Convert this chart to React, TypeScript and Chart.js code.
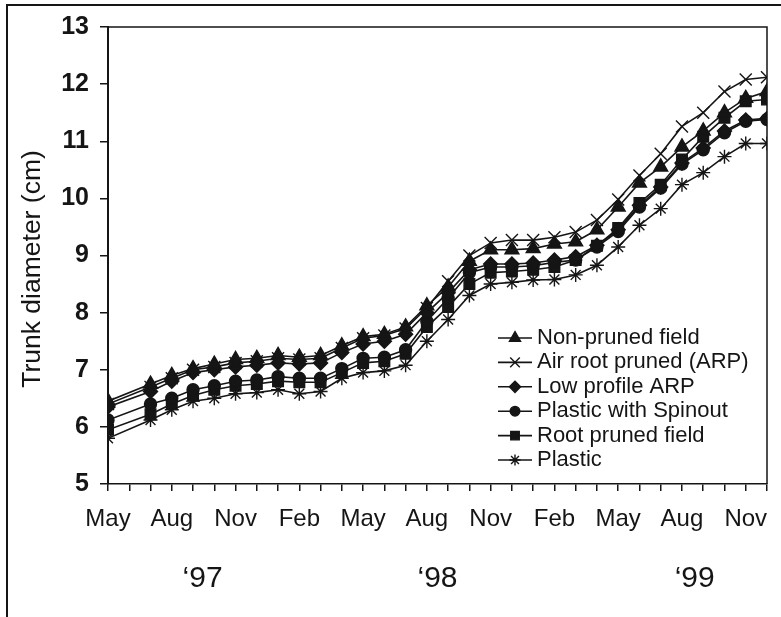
import { useEffect, useRef } from 'react';
import { Chart, registerables } from 'chart.js';
import { drawPoint } from 'chart.js/helpers';

Chart.register(...registerables);

// Month index from May 1997 (0) to Dec 1999 (31); June 1997 not measured
const monthIndex = [0, 2, 3, 4, 5, 6, 7, 8, 9, 10, 11, 12, 13, 14, 15, 16, 17, 18, 19, 20, 21, 22, 23, 24, 25, 26, 27, 28, 29, 30, 31];

const xTickLabels = [
  'May', '', '', 'Aug', '', '', 'Nov', '', '', 'Feb', '', '',
  'May', '', '', 'Aug', '', '', 'Nov', '', '', 'Feb', '', '',
  'May', '', '', 'Aug', '', '', 'Nov', '',
];

const yearLabels = ['\u201897', '\u201898', '\u201899'];
const yearPositions = [4.45, 15.5, 27.6];

const yTicks = [5, 6, 7, 8, 9, 10, 11, 12, 13];
const yTitle = 'Trunk diameter (cm)';

const nonPrunedField = [6.45, 6.75, 6.9, 7.02, 7.1, 7.18, 7.2, 7.25, 7.22, 7.25, 7.42, 7.58, 7.62, 7.75, 8.12, 8.45, 8.9, 9.1, 9.1, 9.12, 9.2, 9.24, 9.45, 9.85, 10.27, 10.55, 10.9, 11.18, 11.5, 11.75, 11.87];
const airRootPruned = [6.4, 6.7, 6.85, 7.0, 7.05, 7.12, 7.15, 7.2, 7.18, 7.2, 7.38, 7.55, 7.6, 7.72, 8.08, 8.55, 9.0, 9.22, 9.27, 9.27, 9.32, 9.41, 9.62, 9.98, 10.4, 10.78, 11.26, 11.5, 11.87, 12.08, 12.12];
const lowProfileARP = [6.35, 6.62, 6.8, 6.95, 7.0, 7.05, 7.08, 7.12, 7.1, 7.12, 7.3, 7.45, 7.5, 7.62, 8.0, 8.35, 8.75, 8.85, 8.85, 8.87, 8.92, 8.98, 9.18, 9.45, 9.88, 10.2, 10.62, 10.88, 11.18, 11.37, 11.4];
const plasticWithSpinout = [6.12, 6.4, 6.5, 6.65, 6.72, 6.8, 6.82, 6.88, 6.85, 6.85, 7.02, 7.2, 7.22, 7.35, 7.85, 8.25, 8.7, 8.8, 8.8, 8.82, 8.88, 8.92, 9.15, 9.42, 9.85, 10.18, 10.6, 10.85, 11.15, 11.35, 11.38];
const rootPrunedField = [5.95, 6.22, 6.4, 6.55, 6.65, 6.72, 6.75, 6.8, 6.78, 6.78, 6.95, 7.12, 7.15, 7.28, 7.75, 8.1, 8.5, 8.7, 8.72, 8.75, 8.8, 8.92, 9.17, 9.48, 9.92, 10.24, 10.68, 11.08, 11.41, 11.7, 11.73];
const plastic = [5.8, 6.12, 6.3, 6.45, 6.5, 6.58, 6.6, 6.65, 6.58, 6.62, 6.85, 6.95, 6.98, 7.08, 7.5, 7.88, 8.3, 8.5, 8.53, 8.57, 8.58, 8.66, 8.83, 9.15, 9.53, 9.82, 10.24, 10.45, 10.73, 10.96, 10.96];

const seriesNames = [
  'Non-pruned field',
  'Air root pruned (ARP)',
  'Low profile ARP',
  'Plastic with Spinout',
  'Root pruned field',
  'Plastic',
];
const seriesValues = [nonPrunedField, airRootPruned, lowProfileARP, plasticWithSpinout, rootPrunedField, plastic];
const seriesMarkers = ['triangle', 'crossRot', 'rectRot', 'circle', 'rect', 'star'];
const markerRadius = [8, 8.5, 7, 6, 7.5, 7];

const INK = '#151515';
const FONT = "'Liberation Sans', Arial, Helvetica, sans-serif";

const plotFrame = {
  id: 'plotFrame',
  beforeDatasetsDraw(chart: any) {
    const { ctx, chartArea: a } = chart;
    ctx.save();
    ctx.strokeStyle = INK;
    ctx.lineWidth = 1.5;
    ctx.beginPath();
    ctx.moveTo(a.left, a.top);
    ctx.lineTo(a.right, a.top);
    ctx.lineTo(a.right, a.bottom);
    ctx.stroke();
    ctx.restore();
  },
};

const sideTitle = {
  id: 'sideTitle',
  afterDraw(chart: any, _args: any, opts: any) {
    const { ctx } = chart;
    ctx.save();
    ctx.font = opts.font;
    ctx.fillStyle = INK;
    ctx.textAlign = 'center';
    ctx.textBaseline = 'middle';
    ctx.translate(opts.x, opts.y);
    ctx.rotate(-Math.PI / 2);
    ctx.fillText(opts.text, 0, 0);
    ctx.restore();
  },
};

const insideLegend = {
  id: 'insideLegend',
  afterDraw(chart: any, _args: any, opts: any) {
    const { ctx } = chart;
    ctx.save();
    ctx.font = opts.font;
    ctx.textBaseline = 'middle';
    ctx.textAlign = 'left';
    chart.data.datasets.forEach((ds: any, i: number) => {
      const y = opts.y + i * opts.rowHeight;
      ctx.strokeStyle = ds.borderColor;
      ctx.lineWidth = ds.borderWidth;
      ctx.beginPath();
      ctx.moveTo(opts.x, y);
      ctx.lineTo(opts.x + opts.lineLength, y);
      ctx.stroke();
      ctx.fillStyle = ds.pointBackgroundColor;
      ctx.strokeStyle = ds.pointBorderColor;
      ctx.lineWidth = ds.pointBorderWidth;
      drawPoint(
        ctx,
        { pointStyle: ds.pointStyle, radius: ds.pointRadius * opts.markerScale, rotation: 0, borderWidth: ds.pointBorderWidth },
        opts.x + opts.lineLength / 2,
        y,
      );
      ctx.fillStyle = INK;
      ctx.fillText(ds.label, opts.x + opts.lineLength + opts.gap, y);
    });
    ctx.restore();
  },
};

export default function App() {
  const canvasRef = useRef<HTMLCanvasElement | null>(null);

  useEffect(() => {
    if (!canvasRef.current) return;
    Chart.defaults.font.family = FONT;
    Chart.defaults.color = INK;

    const datasets = seriesNames.map((name, s) => ({
      label: name,
      data: monthIndex.map((m, i) => ({ x: m, y: seriesValues[s][i] })),
      borderColor: INK,
      borderWidth: 1.6,
      pointStyle: seriesMarkers[s],
      pointRadius: markerRadius[s],
      pointHoverRadius: markerRadius[s],
      pointBackgroundColor: INK,
      pointBorderColor: INK,
      pointBorderWidth: 1.4,
      tension: 0,
      fill: false,
    }));

    const chart = new Chart(canvasRef.current, {
      type: 'line',
      data: { datasets },
      plugins: [plotFrame, insideLegend, sideTitle],
      options: {
        animation: false,
        responsive: false,
        layout: { padding: { left: 0, right: 14, top: 27, bottom: 0 } },
        plugins: {
          legend: { display: false },
          tooltip: { enabled: false },
          insideLegend: {
            x: 498,
            y: 338,
            rowHeight: 24.4,
            lineLength: 34,
            gap: 5,
            markerScale: 0.8,
            font: `22px ${FONT}`,
          },
          sideTitle: {
            text: yTitle,
            x: 33,
            y: 269,
            font: `26.5px ${FONT}`,
          },
        } as any,
        scales: {
          x: {
            type: 'linear',
            min: 0,
            max: 31,
            weight: 0,
            afterFit: (s: any) => { s.height = 60; },
            grid: { drawOnChartArea: false, drawTicks: true, tickLength: 7, color: INK, lineWidth: 1.5 },
            border: { display: true, color: INK, width: 1.5 },
            ticks: {
              stepSize: 1,
              autoSkip: false,
              maxRotation: 0,
              padding: 14,
              font: { size: 24 },
              color: INK,
              callback: (v: any) => xTickLabels[Number(v)] ?? '',
            },
          },
          x2: {
            type: 'linear',
            position: 'bottom',
            min: 0,
            max: 31,
            weight: 1,
            afterFit: (s: any) => { s.height = 73; },
            afterBuildTicks: (s: any) => { s.ticks = yearPositions.map((v) => ({ value: v })); },
            grid: { display: false, drawTicks: false },
            border: { display: false },
            ticks: {
              autoSkip: false,
              maxRotation: 0,
              padding: 17,
              font: { size: 30 },
              color: INK,
              callback: (_v: any, i: number) => yearLabels[i],
            },
          },
          y: {
            type: 'linear',
            min: 5,
            max: 13,
            afterFit: (s: any) => { s.width = 108; },
            afterBuildTicks: (s: any) => { s.ticks = yTicks.map((v) => ({ value: v })); },
            grid: { drawOnChartArea: false, drawTicks: true, tickLength: 8, color: INK, lineWidth: 1.5 },
            border: { display: true, color: INK, width: 2 },
            ticks: {
              padding: 11,
              font: { size: 25, weight: 'bold' },
              color: INK,
            },
            title: { display: false },
          },
        } as any,
      },
    });
    return () => chart.destroy();
  }, []);

  return (
    <div style={{ position: 'absolute', left: 0, top: 0, width: 781, height: 617, background: '#fff', overflow: 'hidden' }}>
      <div
        style={{
          position: 'absolute',
          left: 6,
          top: 4,
          width: 800,
          height: 700,
          borderLeft: `2px solid ${INK}`,
          borderTop: `2px solid ${INK}`,
        }}
      />
      <canvas ref={canvasRef} width={781} height={617} style={{ position: 'absolute', left: 0, top: 0, width: 781, height: 617 }} />
    </div>
  );
}
